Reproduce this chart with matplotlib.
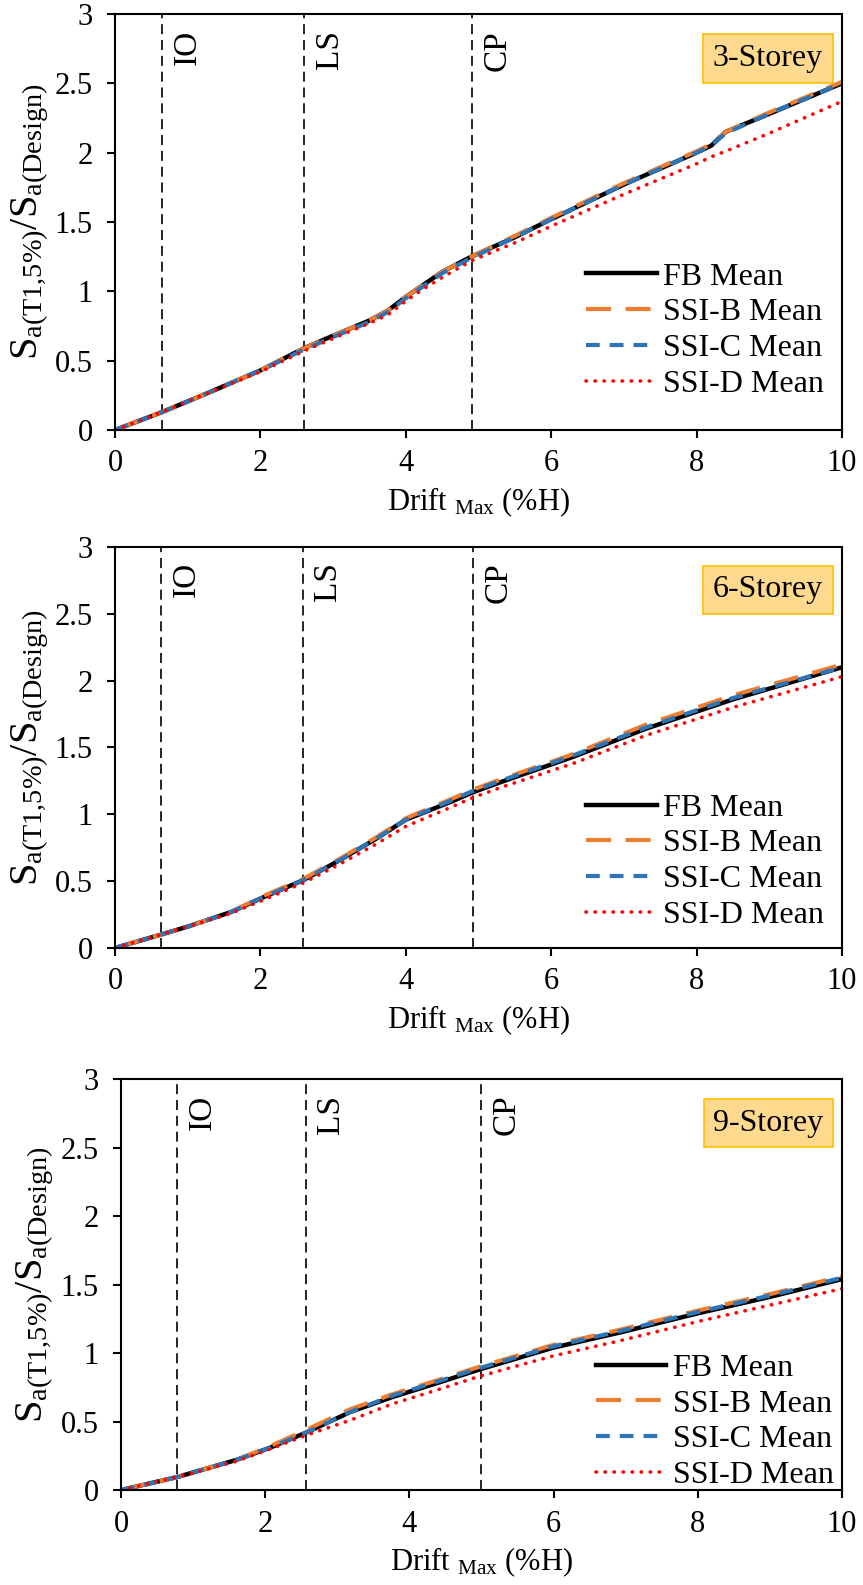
import matplotlib
matplotlib.use("Agg")
import matplotlib.pyplot as plt

plt.rcParams['font.family'] = ['Liberation Serif', 'DejaVu Serif']
plt.rcParams['mathtext.fontset'] = 'custom'
plt.rcParams['mathtext.rm'] = 'Liberation Serif'
plt.rcParams['mathtext.it'] = 'Liberation Serif:italic'

# --- data ---
# 3-Storey
x3 = [0, 0.65, 1.2, 2.0, 2.6, 3.0, 3.5, 3.75, 4.0, 4.25, 4.5, 4.9, 5.5, 6, 7, 8, 8.2, 8.4, 9, 10]
fb3 = [0, 0.13, 0.25, 0.43, 0.59, 0.68, 0.79, 0.86, 0.96, 1.05, 1.14, 1.25, 1.39, 1.52, 1.77, 2.00, 2.05, 2.15, 2.28, 2.50]
b3 = [0, 0.13, 0.25, 0.43, 0.59, 0.68, 0.79, 0.86, 0.96, 1.05, 1.14, 1.25, 1.40, 1.53, 1.78, 2.01, 2.06, 2.15, 2.29, 2.51]
c3 = [0, 0.13, 0.25, 0.43, 0.58, 0.67, 0.78, 0.85, 0.95, 1.04, 1.13, 1.24, 1.39, 1.52, 1.77, 2.00, 2.05, 2.14, 2.28, 2.50]
d3 = [0, 0.13, 0.25, 0.42, 0.57, 0.66, 0.77, 0.83, 0.93, 1.02, 1.10, 1.22, 1.35, 1.47, 1.70, 1.92, 1.97, 2.01, 2.14, 2.37]

# 6-Storey
x6 = [0, 0.63, 1.0, 1.6, 2.0, 2.6, 3.1, 3.6, 4.0, 4.65, 4.9, 5.3, 6.3, 7.3, 8.5, 10]
fb6 = [0, 0.10, 0.16, 0.27, 0.37, 0.51, 0.66, 0.82, 0.96, 1.10, 1.16, 1.24, 1.43, 1.64, 1.86, 2.10]
b6 = [0, 0.10, 0.16, 0.27, 0.38, 0.52, 0.67, 0.83, 0.97, 1.12, 1.18, 1.26, 1.45, 1.67, 1.89, 2.12]
c6 = [0, 0.10, 0.16, 0.27, 0.37, 0.51, 0.66, 0.82, 0.96, 1.11, 1.17, 1.25, 1.44, 1.65, 1.87, 2.10]
d6 = [0, 0.10, 0.16, 0.26, 0.35, 0.49, 0.63, 0.78, 0.91, 1.06, 1.12, 1.20, 1.38, 1.59, 1.80, 2.03]

# 9-Storey
x9 = [0, 0.78, 1.6, 2.07, 2.57, 3.18, 3.77, 4.38, 4.97, 6.0, 6.92, 8, 9, 10]
fb9 = [0, 0.095, 0.22, 0.31, 0.42, 0.57, 0.68, 0.78, 0.88, 1.04, 1.15, 1.29, 1.41, 1.54]
b9 = [0, 0.095, 0.22, 0.32, 0.44, 0.59, 0.70, 0.80, 0.90, 1.06, 1.17, 1.31, 1.43, 1.56]
c9 = [0, 0.095, 0.22, 0.31, 0.42, 0.57, 0.69, 0.79, 0.89, 1.05, 1.16, 1.30, 1.42, 1.55]
d9 = [0, 0.095, 0.21, 0.30, 0.40, 0.51, 0.63, 0.73, 0.83, 0.98, 1.09, 1.23, 1.35, 1.47]

# performance levels (IO, LS, CP) drift limits
limit_names = ["IO", "LS", "CP"]
limits3 = [0.65, 2.6, 4.91]
limits6 = [0.63, 2.58, 4.92]
limits9 = [0.78, 2.56, 4.99]

storeys = ["3-Storey", "6-Storey", "9-Storey"]
series_names = ["FB Mean", "SSI-B Mean", "SSI-C Mean", "SSI-D Mean"]

panels = [
    (x3, [fb3, b3, c3, d3], limits3, storeys[0]),
    (x6, [fb6, b6, c6, d6], limits6, storeys[1]),
    (x9, [fb9, b9, c9, d9], limits9, storeys[2]),
]

# axes boxes [left, bottom, width, height] in figure fractions
boxes = [
    [0.1333, 0.7287, 0.8424, 0.2625],
    [0.1333, 0.4019, 0.8424, 0.2530],
    [0.1402, 0.0599, 0.8355, 0.2593],
]
# legend anchors (lower right corner, axes fraction)
leg_anchor = [(0.975, 0.075), (0.975, 0.045), (0.988, 0.0)]

styles = [
    dict(color="black", lw=3.2, ls="-"),
    dict(color="#ED7D31", lw=3.0, ls=(0, (6, 3.5))),
    dict(color="#2E75B6", lw=3.0, ls=(0, (3.3, 2.4))),
    dict(color="red", lw=2.6, ls=(0, (0.1, 2.4)), dash_capstyle="round"),
]

fs = 22
fig = plt.figure(figsize=(8.63, 15.85), dpi=100)

for (x, ys, lims, name), box, anc in zip(panels, boxes, leg_anchor):
    ax = fig.add_axes(box)
    for y, st, lab in zip(ys, styles, series_names):
        ax.plot(x, y, label=lab, **st)

    for lim, ln in zip(lims, limit_names):
        ax.axvline(lim, color="black", lw=1.2, ls=(0, (6, 3.5)), zorder=1)
        ax.text(lim + 0.35, 0.962, ln, transform=ax.get_xaxis_transform(),
                rotation=90, ha="center", va="top", fontsize=24)

    ax.text(0.898, 0.893, name, transform=ax.transAxes, ha="center", va="center",
            fontsize=23,
            bbox=dict(boxstyle="square,pad=0.3", facecolor="#FFD98E",
                      edgecolor="#FFC000", lw=1.2))

    ax.set_xlim(0, 10)
    ax.set_ylim(0, 3)
    ax.set_xticks([0, 2, 4, 6, 8, 10])
    ax.set_yticks([0, 0.5, 1, 1.5, 2, 2.5, 3])
    ax.set_yticklabels(["0", "0.5", "1", "1.5", "2", "2.5", "3"])
    ax.tick_params(direction="out", length=6, width=1.5, labelsize=fs)
    ax.tick_params(axis="x", pad=8)
    ax.tick_params(axis="y", pad=10)
    for sp in ax.spines.values():
        sp.set_linewidth(1.5)

    ax.set_xlabel(r"Drift $_{\mathrm{Max}}$ (%H)", fontsize=fs, labelpad=5)
    ax.set_ylabel(r"$\mathrm{S_{a(T1{,}5\%)}/S_{a(Design)}}$", fontsize=29, labelpad=3)

    ax.legend(loc="lower right", bbox_to_anchor=anc, frameon=False,
              fontsize=23, handlelength=2.2, handletextpad=0.2,
              labelspacing=0.2, borderaxespad=0, borderpad=0)

fig.savefig("out.png", dpi=100)
